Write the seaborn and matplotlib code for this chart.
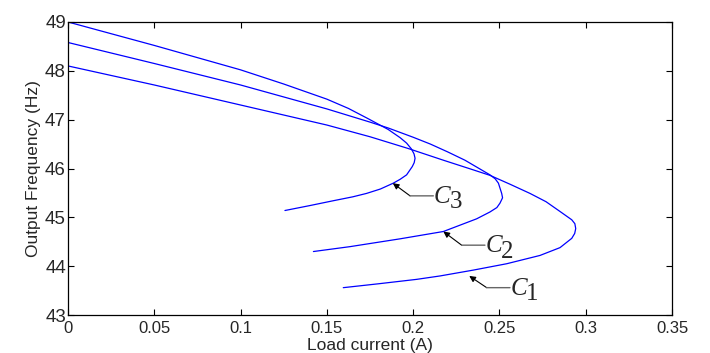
"""
Output frequency versus load current for three droop settings (C1, C2, C3).
"""

import matplotlib

matplotlib.use("Agg")
import matplotlib.pyplot as plt
import pandas as pd
import seaborn as sns

# Curve data: upper branch, nose, lower branch
c1_current = [0.0, 0.05, 0.1, 0.15, 0.175, 0.1971, 0.2175, 0.235, 0.2445, 0.256, 0.2677,
              0.277, 0.2851, 0.2919, 0.2937, 0.2942, 0.2936, 0.2919, 0.2851, 0.2735,
              0.2542, 0.2349, 0.2156, 0.202, 0.18, 0.1595]
c1_freq = [48.10, 47.71, 47.30, 46.89, 46.65, 46.41, 46.17, 45.97, 45.86, 45.68, 45.49,
           45.32, 45.12, 44.95, 44.87, 44.77, 44.67, 44.57, 44.38, 44.22,
           44.05, 43.92, 43.80, 43.73, 43.64, 43.56]

c2_current = [0.0, 0.05, 0.1, 0.15, 0.175, 0.1855, 0.2, 0.21, 0.22, 0.23, 0.2445, 0.2475,
              0.2494, 0.2513, 0.2518, 0.2503, 0.2485, 0.2445, 0.2368, 0.2175, 0.1924,
              0.1634, 0.1422]
c2_freq = [48.58, 48.15, 47.71, 47.22, 46.95, 46.83, 46.64, 46.50, 46.34, 46.17, 45.87, 45.79,
           45.70, 45.49, 45.40, 45.29, 45.20, 45.11, 44.97, 44.71, 44.56,
           44.40, 44.30]

c3_current = [0.0, 0.025, 0.05, 0.075, 0.1, 0.125, 0.15, 0.1625, 0.1739, 0.1855, 0.1925,
              0.1962, 0.199, 0.2005, 0.2011, 0.2006, 0.1995, 0.1962, 0.1925, 0.1885,
              0.181, 0.173, 0.165, 0.1537, 0.14, 0.1257]
c3_freq = [49.0, 48.76, 48.52, 48.27, 48.02, 47.73, 47.42, 47.23, 47.02, 46.80, 46.63,
           46.52, 46.40, 46.30, 46.21, 46.12, 46.04, 45.87, 45.78, 45.70,
           45.58, 45.49, 45.42, 45.34, 45.24, 45.14]

# Annotation callouts: (digit, arrow tip, knee, end of horizontal leader)
labels = ["1", "2", "3"]
tips = [(0.2325, 43.80), (0.2175, 44.71), (0.1882, 45.70)]
knees = [(0.2426, 43.56), (0.2281, 44.43), (0.1982, 45.44)]
leader_ends = [0.2561, 0.2416, 0.2117]

x_ticks = [0, 0.05, 0.1, 0.15, 0.2, 0.25, 0.3, 0.35]
x_tick_labels = ["0", "0.05", "0.1", "0.15", "0.2", "0.25", "0.3", "0.35"]
y_ticks = [43, 44, 45, 46, 47, 48, 49]

sns.set_style("ticks")
plt.rcParams["font.family"] = ["Liberation Sans", "DejaVu Sans"]

df = pd.concat(
    [
        pd.DataFrame({"current": c1_current, "freq": c1_freq, "curve": "C1"}),
        pd.DataFrame({"current": c2_current, "freq": c2_freq, "curve": "C2"}),
        pd.DataFrame({"current": c3_current, "freq": c3_freq, "curve": "C3"}),
    ],
    ignore_index=True,
)

fig = plt.figure(figsize=(7.1, 3.53), dpi=100)
ax = fig.add_axes([0.0958, 0.1076, 0.8507, 0.8301])

sns.lineplot(
    data=df, x="current", y="freq", units="curve", estimator=None, sort=False,
    color="#0000ff", linewidth=0.9, ax=ax,
)

# Callouts: arrow from knee to curve, grey leader, italic C with digit
for digit, tip, knee, end in zip(labels, tips, knees, leader_ends):
    ax.annotate(
        "", xy=tip, xytext=knee,
        arrowprops=dict(arrowstyle="-|>", color="black", lw=0.8, mutation_scale=9,
                        shrinkA=0, shrinkB=0),
    )
    ax.annotate(
        "", xy=(end, knee[1]), xytext=knee,
        arrowprops=dict(arrowstyle="-", color="0.4", lw=1.0, shrinkA=0, shrinkB=0),
    )
    ax.annotate(
        "C", xy=(end, knee[1]), xytext=(0.5, -5), textcoords="offset points",
        fontsize=18, family="Liberation Serif", style="italic", ha="left", va="baseline",
    )
    ax.annotate(
        digit, xy=(end, knee[1]), xytext=(11.5, -9), textcoords="offset points",
        fontsize=18, family="Liberation Serif", ha="left", va="baseline",
    )

ax.set_xlim(0, 0.35)
ax.set_ylim(43, 49)
ax.set_xticks(x_ticks)
ax.set_xticklabels(x_tick_labels, fontsize=12)
ax.set_yticks(y_ticks)
ax.set_yticklabels([str(v) for v in y_ticks], fontsize=13.5)
ax.tick_params(direction="in", top=True, right=True, length=4.5, width=0.8, color="black")
ax.tick_params(axis="x", pad=4)
ax.tick_params(axis="y", pad=1.5)

for spine in ax.spines.values():
    spine.set_visible(True)
    spine.set_linewidth(0.9)
    spine.set_color("black")

ax.set_xlabel("Load current (A)", fontsize=12.5)
ax.set_ylabel("Output Frequency (Hz)", fontsize=12.5)
ax.xaxis.set_label_coords(0.5, -0.078)
ax.yaxis.set_label_coords(-0.045, 0.5)

fig.savefig("out.png", dpi=100)
plt.close(fig)
